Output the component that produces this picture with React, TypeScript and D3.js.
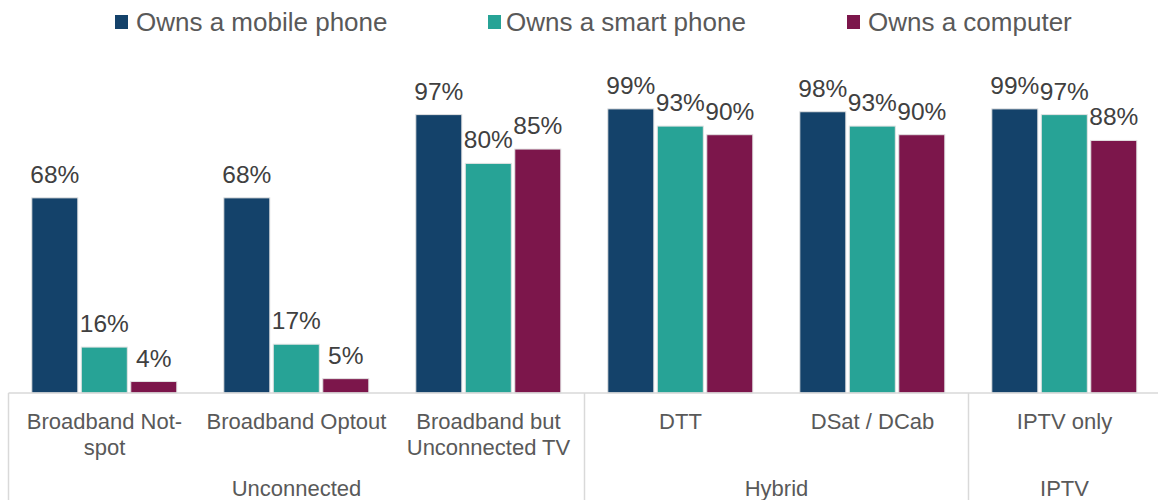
import React from "react";
import * as d3 from "d3";

const categories = ["Broadband Not-spot", "Broadband Optout", "Broadband but Unconnected TV", "DTT", "DSat / DCab", "IPTV only"];
const categoryLines = [["Broadband Not-", "spot"], ["Broadband Optout"], ["Broadband but", "Unconnected TV"], ["DTT"], ["DSat / DCab"], ["IPTV only"]];
const seriesNames = ["Owns a mobile phone", "Owns a smart phone", "Owns a computer"];
const mobilePhone = [0.68, 0.68, 0.97, 0.99, 0.98, 0.99];
const smartPhone = [0.16, 0.17, 0.80, 0.93, 0.93, 0.97];
const computer = [0.04, 0.05, 0.85, 0.90, 0.90, 0.88];
const groups = [
  { name: "Unconnected", from: 0, to: 2 },
  { name: "Hybrid", from: 3, to: 4 },
  { name: "IPTV", from: 5, to: 5 },
];
const colors = ["#14426a", "#27a396", "#7c164b"];

const W = 1158;
const H = 500;
const FONT = "'Liberation Sans', Arial, sans-serif";

export default function App() {
  const seriesValues = [mobilePhone, smartPhone, computer];
  const x = d3.scaleBand<string>().domain(categories).range([8.5, 1160.5]).padding(0);
  const inner = d3
    .scaleBand<string>()
    .domain(seriesNames)
    .range([23.3, 168.3])
    .paddingInner(0.07)
    .paddingOuter(0);
  const y = d3.scaleLinear().domain([0, 1]).range([393, 106]);
  const axisY = y(0);
  const step = x.step();

  const boundaries = [0, ...groups.map((g) => g.to + 1)];
  const legendPos = [
    { sq: 115, tx: 136 },
    { sq: 488, tx: 506 },
    { sq: 847, tx: 868 },
  ];

  return (
    <svg
      width={W}
      height={H}
      style={{ position: "absolute", left: 0, top: 0, display: "block", background: "#fff" }}
      fontFamily={FONT}
    >
      {/* legend */}
      {seriesNames.map((s, i) => (
        <g key={s}>
          <rect x={legendPos[i].sq} y={15} width={13} height={14} fill={colors[i]} />
          <text x={legendPos[i].tx} y={31} fontSize={26} fill="#595959">
            {s}
          </text>
        </g>
      ))}

      {/* bars */}
      {categories.map((c, ci) => (
        <g key={c} transform={`translate(${x(c)},0)`}>
          {seriesNames.map((s, si) => {
            const v = seriesValues[si][ci];
            const bx = inner(s)!;
            const bw = inner.bandwidth();
            return (
              <g key={s}>
                <rect
                  x={bx}
                  y={y(v)}
                  width={bw}
                  height={axisY - y(v)}
                  fill={colors[si]}
                  stroke="#e3e3e3"
                  strokeWidth={1}
                />
                <text
                  x={bx + bw / 2}
                  y={y(v) - 15}
                  textAnchor="middle"
                  fontSize={24.5}
                  fill="#404040"
                >
                  {d3.format(".0%")(v)}
                </text>
              </g>
            );
          })}
        </g>
      ))}

      {/* axis line */}
      <line x1={8.5} x2={1160.5} y1={axisY} y2={axisY} stroke="#d9d9d9" strokeWidth={1.5} />
      {boundaries.map((b) => {
        const bx = 8.5 + b * step;
        return <line key={b} x1={bx} x2={bx} y1={axisY} y2={H} stroke="#d9d9d9" strokeWidth={1.5} />;
      })}

      {/* category labels */}
      {categories.map((c, ci) => (
        <text key={c} textAnchor="middle" fontSize={22} fill="#595959">
          {categoryLines[ci].map((line, li) => (
            <tspan key={li} x={x(c)! + step / 2} y={429 + li * 26}>
              {line}
            </tspan>
          ))}
        </text>
      ))}

      {/* group labels */}
      {groups.map((g) => {
        const cx = (x(categories[g.from])! + x(categories[g.to])! + step) / 2;
        return (
          <text key={g.name} x={cx} y={496} textAnchor="middle" fontSize={22} fill="#595959">
            {g.name}
          </text>
        );
      })}
    </svg>
  );
}
